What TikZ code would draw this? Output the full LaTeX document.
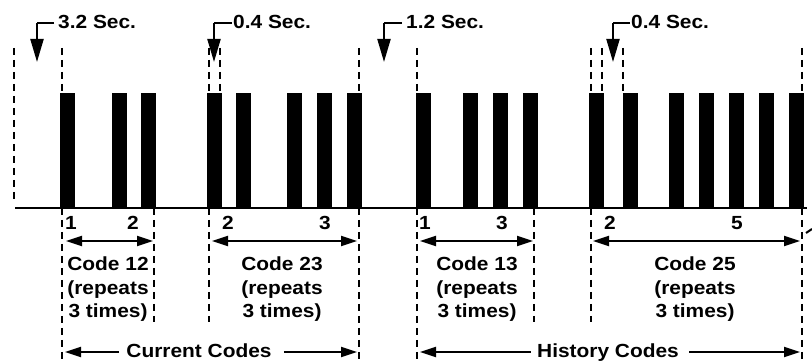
\documentclass[tikz,border=0pt]{standalone}
\usepackage{fontspec}
\setmainfont{Liberation Sans}[FakeStretch=1.1]
\usetikzlibrary{arrows.meta}
\begin{document}
\begin{tikzpicture}[x=1pt,y=-1pt,
  lbl/.style={font=\fontsize{19}{24}\selectfont\bfseries, inner sep=0pt},
  bar/.style={fill=black, draw=none},
  guide/.style={line width=2.2pt, dash pattern=on 7pt off 5pt},
  dimarrow/.style={line width=2.1pt, {Triangle[length=16pt,width=10pt]}-{Triangle[length=16pt,width=10pt]}},
  halfarrow/.style={line width=2.1pt, -{Triangle[length=16pt,width=10pt]}},
  downarrow/.style={line width=2.1pt, -{Triangle[length=23pt,width=13pt]}}]
\useasboundingbox (0,0) rectangle (812,363);

% bars
\foreach \x in {60,112,141, 207,236,287,317,347, 416,463,493,523, 589,623,669,699,729,759,789}
  \fill[bar] (\x,93) rectangle (\x+15,208);

% baseline
\coordinate (b0) at (15,208);
\coordinate (b1) at (807,208);
\draw[line width=2.1pt] (b0) -- (b1);

% upper guides
\draw[guide] (14,48) -- (14,202);
\foreach \x in {62,209,220,359,417,591,602,623,802}
  \draw[guide] (\x,48) -- (\x,93);

% lower guides
\foreach \x in {62,359,417,802}
  \draw[guide] (\x,208) -- (\x,363);
\foreach \x in {154,209,534,591}
  \draw[guide] (\x,208) -- (\x,322);

% small cut-off mark at right edge
\draw[line width=2pt] (806,233) -- (812,229);

% top labels with arrows
\node[lbl, anchor=base west] (t1) at (58,29) {3.2 Sec.};
\coordinate (a1) at (37,23); \coordinate (a1t) at (37,62);
\draw[line width=2.1pt] (t1.west |- a1) ++(-4,0) -- (a1);
\draw[downarrow] (a1) -- (a1t);

\node[lbl, anchor=base west] (t2) at (233,29) {0.4 Sec.};
\coordinate (a2) at (214,23); \coordinate (a2t) at (214,62);
\draw[line width=2.1pt] (t2.west |- a2) ++(-1,0) -- (a2);
\draw[downarrow] (a2) -- (a2t);

\node[lbl, anchor=base west] (t3) at (406,29) {1.2 Sec.};
\coordinate (a3) at (384,23); \coordinate (a3t) at (384,62);
\draw[line width=2.1pt] (t3.west |- a3) ++(-4,0) -- (a3);
\draw[downarrow] (a3) -- (a3t);

\node[lbl, anchor=base west] (t4) at (631,29) {0.4 Sec.};
\coordinate (a4) at (613,23); \coordinate (a4t) at (613,62);
\draw[line width=2.1pt] (t4.west |- a4) ++(-1,0) -- (a4);
\draw[downarrow] (a4) -- (a4t);

% digit labels
\node[lbl, anchor=base] (d1) at (71,230) {1};
\node[lbl, anchor=base] (d2) at (133,230) {2};
\node[lbl, anchor=base] (d3) at (228,230) {2};
\node[lbl, anchor=base] (d4) at (325,230) {3};
\node[lbl, anchor=base] (d5) at (425,230) {1};
\node[lbl, anchor=base] (d6) at (502,230) {3};
\node[lbl, anchor=base] (d7) at (610,230) {2};
\node[lbl, anchor=base] (d8) at (737,230) {5};

% code dimension arrows
\coordinate (c12a) at (66,241);  \coordinate (c12b) at (153,241);
\coordinate (c23a) at (212,241); \coordinate (c23b) at (357,241);
\coordinate (c13a) at (420,241); \coordinate (c13b) at (533,241);
\coordinate (c25a) at (593,241); \coordinate (c25b) at (800,241);
\draw[dimarrow] (c12a) -- (c12b);
\draw[dimarrow] (c23a) -- (c23b);
\draw[dimarrow] (c13a) -- (c13b);
\draw[dimarrow] (c25a) -- (c25b);

% code texts
\foreach \n/\x/\c in {k12/108/12, k23/282/23, k13/477/13, k25/695/25}{
  \node[lbl, anchor=base] (\n a) at (\x,271) {Code \c};
  \node[lbl, anchor=base] (\n b) at (\x,294.5) {(repeats};
  \node[lbl, anchor=base] (\n c) at (\x,318) {3 times)};
}

% group arrows
\node[lbl, anchor=base, inner xsep=7pt] (cur) at (199,358) {Current Codes};
\coordinate (cura) at (65,352); \coordinate (curb) at (357,352);
\draw[halfarrow] (cur.west |- cura) -- (cura);
\draw[halfarrow] (cur.east |- curb) ++(5,0) -- (curb);

\node[lbl, anchor=base, inner xsep=6pt] (his) at (608,358) {History Codes};
\coordinate (hisa) at (420,352); \coordinate (hisb) at (800,352);
\draw[halfarrow] (his.west |- hisa) -- (hisa);
\draw[halfarrow] (his.east |- hisb) ++(4,0) -- (hisb);
\end{tikzpicture}
\end{document}
